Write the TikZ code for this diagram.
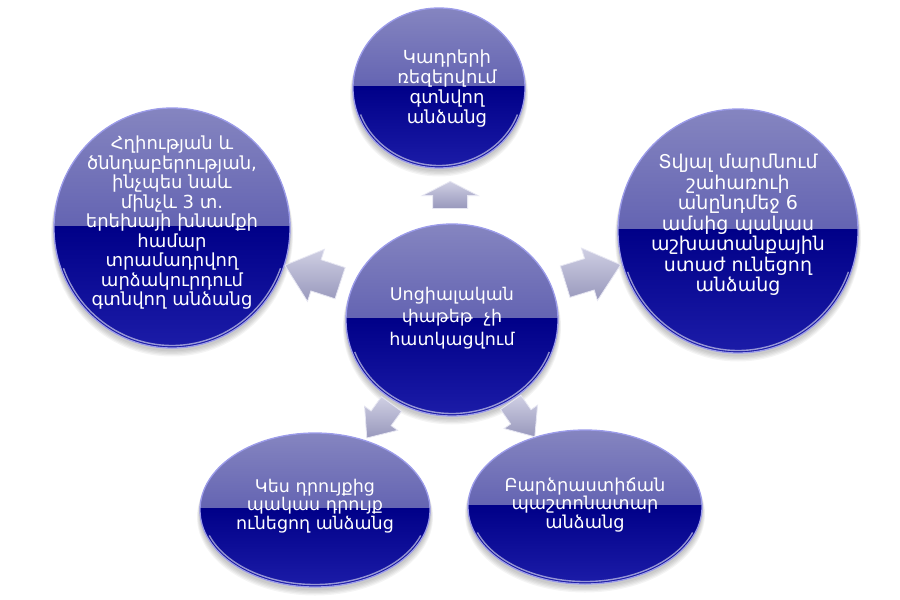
\documentclass[tikz,border=0pt]{standalone}
\usepackage{fontspec}
\setmainfont{DejaVu Sans}
\usetikzlibrary{shapes.geometric,shapes.arrows,calc}
\definecolor{topA}{HTML}{8585C0}
\definecolor{topB}{HTML}{4242A4}
\definecolor{botA}{HTML}{000088}
\definecolor{botB}{HTML}{1C1CA8}
\definecolor{rimc}{HTML}{9C9CEA}
\definecolor{arrA}{HTML}{CFCFE3}
\definecolor{arrB}{HTML}{9898BC}
\definecolor{arrE}{HTML}{E6E6F2}
\tikzset{
  ball/.style={ellipse, inner sep=0pt, draw=rimc, line width=1.3pt,
    path picture={
      \fill[top color=topA, bottom color=topB] (path picture bounding box.north west) rectangle ([yshift=2pt]path picture bounding box.east);
      \fill[top color=botA, bottom color=botB] ([yshift=2pt]path picture bounding box.west) rectangle (path picture bounding box.south east);
    }},
  balltext/.style={inner sep=0pt, text=white, align=center},
  blockarrow/.style={single arrow, inner xsep=0pt, draw=arrE, line width=0.8pt,
    top color=arrA, bottom color=arrB},
  gloss/.style={white, opacity=0.55, line width=1.4pt},
  shadowc/.style={black, opacity=0.045}
}
% name, x, y, rx, ry, fontsize, skip, text shift, text
\newcommand\ballat[9]{%
  \foreach \k in {1,...,5}{\fill[shadowc] (#2,#3-2-\k) ellipse[x radius=#4+0.6*\k, y radius=#5+0.3*\k];}
  \node[ball, minimum width={2*#4pt}, minimum height={2*#5pt}] (#1) at (#2,#3) {};
  \draw[gloss] ($(#1.center)+(200:{#4-2.5} and {#5-2.5})$) arc[start angle=200, end angle=340, x radius={#4-2.5}, y radius={#5-2.5}];
  \node[balltext, font=\fontsize{#6}{#7}\selectfont] (#1t) at ([#8]#1.center) {#9};
}
\begin{document}
\begin{tikzpicture}[x=1pt,y=1pt]
\useasboundingbox (0,0) rectangle (900,-600);
\fill[white] (0,0) rectangle (900,-600);

\ballat{t}{439}{-88}{86}{80}{18}{20}{xshift=8pt,yshift=-1pt}{Կադրերի\\ռեզերվում\\գտնվող\\անձանց}
\ballat{l}{172}{-228}{118}{120}{18}{19.5}{yshift=5pt}{Հղիության և\\ծննդաբերության,\\ինչպես նաև\\մինչև 3 տ.\\երեխայի խնամքի\\համար\\տրամադրվող\\արձակուրդում\\գտնվող անձանց}
\ballat{r}{738}{-231}{120}{122}{19}{20.5}{yshift=6pt}{Տվյալ մարմնում\\շահառուի\\անընդմեջ 6\\ամսից պակաս\\աշխատանքային\\ստաժ ունեցող\\անձանց}
\ballat{bl}{315}{-510}{115}{77}{17.5}{18.5}{yshift=4pt}{Կես դրույքից\\պակաս դրույք\\ունեցող անձանց}
\ballat{br}{585}{-507}{117}{77}{17.8}{18.5}{yshift=2pt}{Բարձրաստիճան\\պաշտոնատար\\անձանց}
\ballat{c}{452}{-320}{106}{96}{17.5}{22.5}{yshift=2pt}{Սոցիալական\\փաթեթ~ չի\\հատկացվում}

\node[blockarrow, minimum height=27pt, inner ysep=17pt, single arrow head extend=10.5pt, single arrow tip angle=126, rotate=90] (aU) at ([xshift=5pt]$(c)!0.52!(t)$) {};
\node[blockarrow, minimum height=58pt, inner ysep=16pt, single arrow head extend=11pt, single arrow tip angle=80, rotate=162] (aL) at ($(c)!0.465!(l)$) {};
\node[blockarrow, minimum height=58pt, inner ysep=16pt, single arrow head extend=11pt, single arrow tip angle=80, rotate=17] (aR) at ([yshift=3pt]$(c)!0.46!(r)$) {};
\node[blockarrow, minimum height=42pt, inner ysep=12pt, single arrow head extend=8pt, single arrow tip angle=80, rotate=234] (aBL) at ($(c)!0.5!(bl)$) {};
\node[blockarrow, minimum height=42pt, inner ysep=12pt, single arrow head extend=8pt, single arrow tip angle=80, rotate=-55] (aBR) at ($(c)!0.5!(br)$) {};
\end{tikzpicture}
\end{document}
